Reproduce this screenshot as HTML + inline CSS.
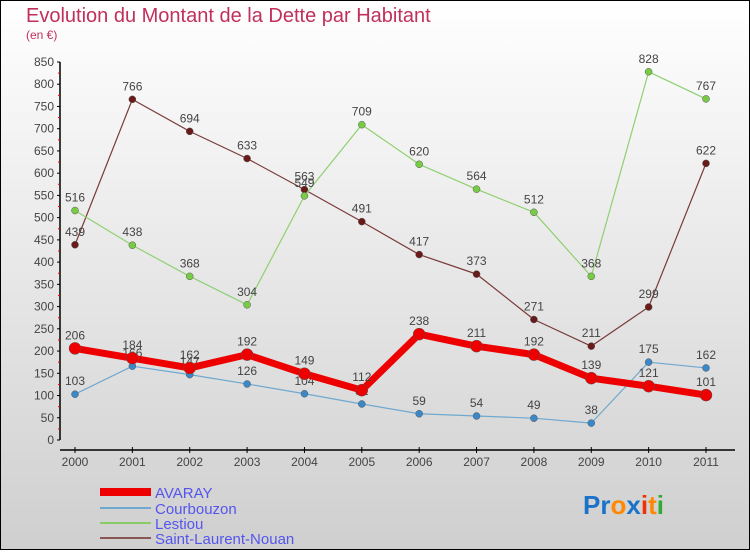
<!DOCTYPE html>
<html><head><meta charset="utf-8"><style>
html,body{margin:0;padding:0}
body{width:750px;height:550px;overflow:hidden;font-family:"Liberation Sans",sans-serif}
</style></head><body>
<svg width="750" height="550" xmlns="http://www.w3.org/2000/svg">
<defs><linearGradient id="bg" x1="0" y1="0" x2="0" y2="1"><stop offset="0" stop-color="#ffffff"/><stop offset="1" stop-color="#cfcfcf"/></linearGradient></defs>
<rect x="0.5" y="0.5" width="749" height="549" fill="url(#bg)" stroke="#000"/>
<text x="26" y="22" font-size="20" fill="#c0305a">Evolution du Montant de la Dette par Habitant</text>
<text x="26" y="39" font-size="12" fill="#c0305a">(en €)</text>
<g id="axes"></g>
<g id="series"></g>
<g>
<rect x="100" y="488" width="51" height="8" fill="#ee0000"/>
<text x="155" y="498" font-size="15" fill="#5555ee">AVARAY</text>
<line x1="100" x2="151" y1="508" y2="508" stroke="#6fa8d0" stroke-width="2"/>
<text x="155" y="514" font-size="15" fill="#5555ee">Courbouzon</text>
<line x1="100" x2="151" y1="523" y2="523" stroke="#88cc66" stroke-width="2"/>
<text x="155" y="529" font-size="15" fill="#5555ee">Lestiou</text>
<line x1="100" x2="151" y1="538" y2="538" stroke="#8a5555" stroke-width="2"/>
<text x="155" y="544" font-size="15" fill="#5555ee">Saint-Laurent-Nouan</text>
</g>
<text x="583" y="514" font-size="26" font-weight="bold"><tspan fill="#1a73c8">Pr</tspan><tspan fill="#ff8800">o</tspan><tspan fill="#1a73c8">x</tspan><tspan fill="#ee3300">i</tspan><tspan fill="#ff8800">t</tspan><tspan fill="#33aa33">i</tspan></text>
</svg>
<script>
const years=["2000","2001","2002","2003","2004","2005","2006","2007","2008","2009","2010","2011"];
const yTicks=[0,50,100,150,200,250,300,350,400,450,500,550,600,650,700,750,800,850];
const avaray=[206,184,162,192,149,112,238,211,192,139,121,101];
const courbouzon=[103,166,147,126,104,81,59,54,49,38,175,162];
const lestiou=[516,438,368,304,549,709,620,564,512,368,828,767];
const saintLaurent=[439,766,694,633,563,491,417,373,271,211,299,622];
const NS="http://www.w3.org/2000/svg";
function xS(i){return 75+i*(706-75)/11;}
function yS(v){return 440-v*378/850;}
function mk(tag,attrs,parent){const e=document.createElementNS(NS,tag);for(const k in attrs)e.setAttribute(k,attrs[k]);parent.appendChild(e);return e;}
const ax=document.getElementById('axes');
const yAxis=mk('line',{x1:60,x2:60,y1:yS(850),y2:440,stroke:'#000','stroke-width':1.5},ax);


yTicks.forEach(v=>{
  mk('line',{x1:57,x2:60,y1:yS(v),y2:yS(v),stroke:'#000'},ax);
  if(v<850) mk('line',{x1:58,x2:60,y1:yS(v+25),y2:yS(v+25),stroke:'#e00'},ax);
  const t=mk('text',{x:54,y:yS(v)+4,'font-size':12,fill:'#444','text-anchor':'end'},ax);
  t.textContent=v;
  
  
});
const xAxis=mk('line',{x1:60,x2:735,y1:450,y2:450,stroke:'#000','stroke-width':1.5},ax);


years.forEach((y,i)=>{
  mk('line',{x1:xS(i),x2:xS(i),y1:447,y2:453,stroke:'#000'},ax);
  const t=mk('text',{x:xS(i),y:466,'font-size':12,fill:'#444','text-anchor':'middle'},ax);
  t.textContent=y;
  
  
});
const sg=document.getElementById('series');
function draw(data,name,color,dot,width,r){
  const g=mk('g',{},sg);
  
  
  const pl=mk('polyline',{points:data.map((v,i)=>xS(i)+','+yS(v)).join(' '),fill:'none',stroke:color,'stroke-width':width,'stroke-linejoin':'round'},g);
  
  
  data.forEach((v,i)=>{
    const c=mk('circle',{cx:xS(i),cy:yS(v),r:r,fill:dot,stroke:'#555','stroke-width':0.5},g);
    
    
    const t=mk('text',{x:xS(i),y:yS(v)-9,'font-size':12,fill:'#444','text-anchor':'middle'},g);
    t.textContent=v;
    
    
  });
}
draw(saintLaurent,'saint-laurent-nouan','#7a3a3a','#6b1a1a',1.2,3.5);
draw(lestiou,'lestiou','#8fd070','#77cc44',1.2,3.5);
draw(courbouzon,'courbouzon','#6fa8d0','#3a88c8',1.2,3.5);
draw(avaray,'avaray','#ee0000','#ee0000',7,6);
</script>
</body></html>
